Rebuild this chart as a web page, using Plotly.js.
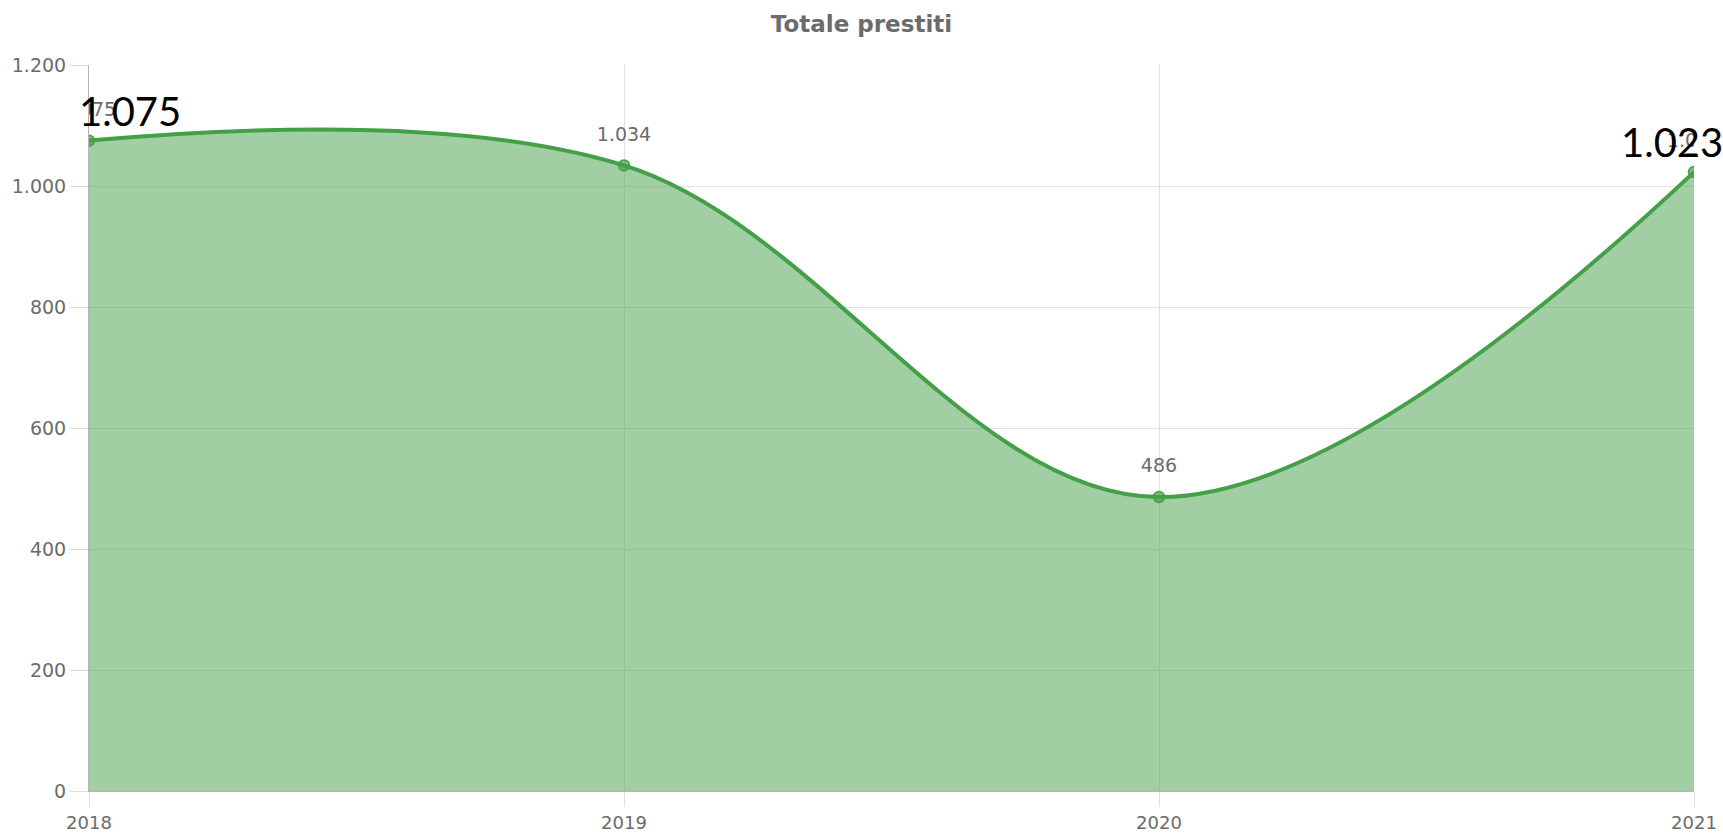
<!DOCTYPE html>
<html>
<head>
<meta charset="utf-8">
<script src="https://cdn.plot.ly/plotly-3.0.1.min.js"></script>
<style>
  html, body { margin: 0; padding: 0; background: #fff; }
  #chart { width: 1723px; height: 836px; }
</style>
</head>
<body>
<div id="chart"></div>
<script>
// Totale prestiti per anno
const years = [2018, 2019, 2020, 2021];
const prestiti = [1075, 1034, 486, 1023];
const yTicks = [0, 200, 400, 600, 800, 1000, 1200];
// the two oversized labels drawn on top of the chart
const bigLabelYears = [2018, 2021];
const bigLabelValues = [1075, 1023];

const GREEN = '#43a047';
const GREY = '#6b6b6b';
const TICK_FONT = 'DejaVu Sans, sans-serif';

const fmt = v => v.toLocaleString('it-IT');

// area + line + markers
const area = {
    x: years,
    y: prestiti,
    type: 'scatter',
    mode: 'lines+markers',
    line: { color: GREEN, width: 4, shape: 'spline', smoothing: 1.05 },
    marker: { color: 'rgba(67,160,71,0.7)', size: 11, line: { color: GREEN, width: 1.5 } },
    fill: 'tozeroy',
    fillcolor: 'rgba(67,160,71,0.5)',
    hoverinfo: 'x+y'
};

// small grey value labels, clipped to the plot area (on a slightly shifted twin axis
// so they sit a bit higher above the points)
const labels = {
    x: years,
    y: prestiti,
    yaxis: 'y2',
    type: 'scatter',
    mode: 'text',
    text: prestiti.map(fmt),
    textposition: 'top center',
    textfont: { family: TICK_FONT, size: 19, color: GREY },
    cliponaxis: true,
    hoverinfo: 'skip'
};

const layout = {
    width: 1723,
    height: 836,
    separators: ',.',
    paper_bgcolor: '#ffffff',
    plot_bgcolor: '#ffffff',
    showlegend: false,
    margin: { t: 65, r: 29, b: 45, l: 89 },
    font: { family: TICK_FONT, size: 19, color: GREY },
    title: {
        text: '<b>Totale prestiti</b>',
        font: { family: TICK_FONT, size: 23, color: GREY },
        x: 0.5, xanchor: 'center',
        y: 0.971, yref: 'container', yanchor: 'middle'
    },
    xaxis: {
        range: [2018, 2021],
        tickvals: years,
        ticktext: years.map(String),
        showgrid: true,
        gridcolor: '#e2e2e2',
        zeroline: false,
        showline: true,
        linecolor: '#b5b5b5',
        ticks: 'outside',
        ticklen: 15,
        tickcolor: '#dcdcdc',
        tickfont: { size: 18, color: GREY }
    },
    yaxis: {
        range: [0, 1200],
        tickvals: yTicks,
        separatethousands: true,
        showgrid: true,
        gridcolor: '#e2e2e2',
        zeroline: false,
        showline: true,
        linecolor: '#b5b5b5',
        ticks: 'outside',
        ticklen: 18,
        tickcolor: '#dcdcdc',
        tickfont: { size: 19, color: GREY }
    },
    yaxis2: {
        range: [-33, 1167],
        overlaying: 'y',
        visible: false
    },
    annotations: bigLabelYears.map((yr, i) => ({
        x: yr,
        y: bigLabelValues[i],
        xref: 'x',
        yref: 'y',
        text: fmt(bigLabelValues[i]),
        showarrow: false,
        xanchor: i === 0 ? 'left' : 'center',
        xshift: i === 0 ? -12 : -22,
        yshift: 30,
        font: { family: 'Lato, sans-serif', size: 40, color: '#000000' }
    }))
};

Plotly.newPlot('chart', [area, labels], layout, { displayModeBar: false, staticPlot: true });
</script>
</body>
</html>
